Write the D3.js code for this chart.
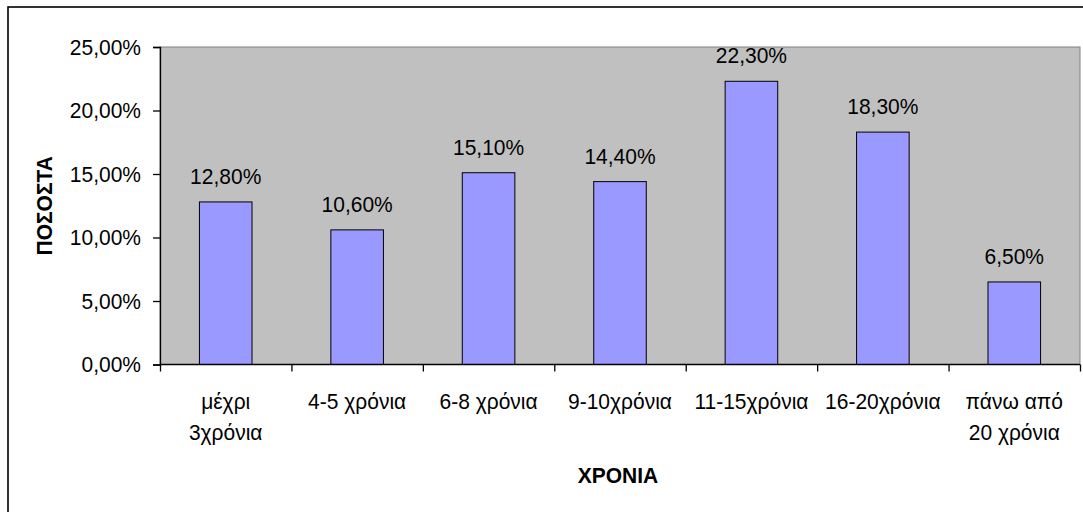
<!DOCTYPE html>
<html>
<head>
<meta charset="utf-8">
<script src="https://cdn.jsdelivr.net/npm/d3@7"></script>
<style>
  html, body { margin: 0; padding: 0; background: #fff; }
  svg { display: block; }
  text { font-family: "Liberation Sans", Arial, sans-serif; fill: #000; }
</style>
</head>
<body>
<svg id="chart" width="1083" height="512"></svg>
<script>
// Years of service categories (multi-line labels split on "\n")
const categories = [
  "μέχρι\n3χρόνια",
  "4-5 χρόνια",
  "6-8 χρόνια",
  "9-10χρόνια",
  "11-15χρόνια",
  "16-20χρόνια",
  "πάνω από\n20 χρόνια"
];
// Share of respondents per category, in percent
const values = [12.8, 10.6, 15.1, 14.4, 22.3, 18.3, 6.5];
// Y axis ticks, in percent
const yTicks = [0, 5, 10, 15, 20, 25];

const yTitle = "ΠΟΣΟΣΤΑ";
const xTitle = "ΧΡΟΝΙΑ";

const svg = d3.select("#chart");
const plot = { left: 160, right: 1080, top: 47, bottom: 364.5 };
const fontSize = 21;
const stretch = 1.08;   // slightly tall glyphs

const pct = v => d3.format(".2f")(v).replace(".", ",") + "%";
// place text with its baseline at y, stretched vertically about the baseline
const atY = y => `translate(0,${y}) scale(1,${stretch})`;

// outer chart frame (extends past the right and bottom edges)
svg.append("rect")
  .attr("x", 8).attr("y", 7)
  .attr("width", 1200).attr("height", 700)
  .attr("fill", "#fff").attr("stroke", "#000").attr("stroke-width", 1.6);

const x = d3.scaleBand()
  .domain(categories)
  .range([plot.left, plot.right])
  .paddingInner(0.6)
  .paddingOuter(0.3);

const xEdge = d3.scaleLinear()
  .domain([0, categories.length])
  .range([plot.left, plot.right]);

const y = d3.scaleLinear()
  .domain([0, 25])
  .range([plot.bottom, plot.top]);

// plot area background
svg.append("rect")
  .attr("x", plot.left).attr("y", plot.top)
  .attr("width", plot.right - plot.left)
  .attr("height", plot.bottom - plot.top)
  .attr("fill", "#C0C0C0")
  .attr("stroke", "#808080").attr("stroke-width", 1);

// bars
svg.append("g").selectAll("rect")
  .data(values)
  .join("rect")
  .attr("x", (d, i) => x(categories[i]))
  .attr("y", d => y(d))
  .attr("width", x.bandwidth())
  .attr("height", d => y(0) - y(d))
  .attr("fill", "#9999FF")
  .attr("stroke", "#000")
  .attr("stroke-width", 1);

// value labels above bars
svg.append("g").selectAll("text")
  .data(values)
  .join("text")
  .attr("x", (d, i) => x(categories[i]) + x.bandwidth() / 2)
  .attr("y", 0)
  .attr("transform", d => atY(y(d) - 18))
  .attr("text-anchor", "middle")
  .attr("font-size", fontSize)
  .text(d => pct(d));

// y axis
const yAxis = svg.append("g")
  .attr("transform", `translate(${plot.left},0)`)
  .call(d3.axisLeft(y).tickValues(yTicks).tickSize(7).tickPadding(12).tickFormat(pct));
yAxis.selectAll("text")
  .attr("font-size", fontSize)
  .attr("font-family", "Liberation Sans, Arial, sans-serif")
  .attr("fill", "#000")
  .attr("transform", `scale(1,${stretch})`);
yAxis.selectAll("line, path").attr("stroke", "#000").attr("stroke-width", 1.3);

// x axis with ticks at category boundaries
const xAxis = svg.append("g")
  .attr("transform", `translate(0,${plot.bottom})`)
  .call(d3.axisBottom(xEdge).tickValues(d3.range(categories.length + 1)).tickSize(7).tickFormat(""));
xAxis.selectAll("line, path").attr("stroke", "#000").attr("stroke-width", 1.3);
xAxis.select(".domain").attr("d", `M${plot.left},0H${plot.right}`);

// category labels
const catLabels = svg.append("g").selectAll("text")
  .data(categories)
  .join("text")
  .attr("x", d => x(d) + x.bandwidth() / 2)
  .attr("y", 0)
  .attr("transform", atY(409))
  .attr("text-anchor", "middle")
  .attr("font-size", fontSize);
catLabels.each(function (d) {
  const t = d3.select(this);
  d.split("\n").forEach((line, k) => {
    t.append("tspan")
      .attr("x", t.attr("x"))
      .attr("dy", k === 0 ? 0 : 31 / stretch)
      .text(line);
  });
});

// axis titles
svg.append("text")
  .attr("x", (plot.left + plot.right) / 2 - 2)
  .attr("y", 0)
  .attr("transform", atY(483))
  .attr("text-anchor", "middle")
  .attr("font-size", fontSize)
  .attr("font-weight", "bold")
  .text(xTitle);

svg.append("text")
  .attr("transform", `translate(52,${(plot.top + plot.bottom) / 2}) rotate(-90) scale(1,${stretch})`)
  .attr("text-anchor", "middle")
  .attr("font-size", fontSize)
  .attr("font-weight", "bold")
  .text(yTitle);
</script>
</body>
</html>
